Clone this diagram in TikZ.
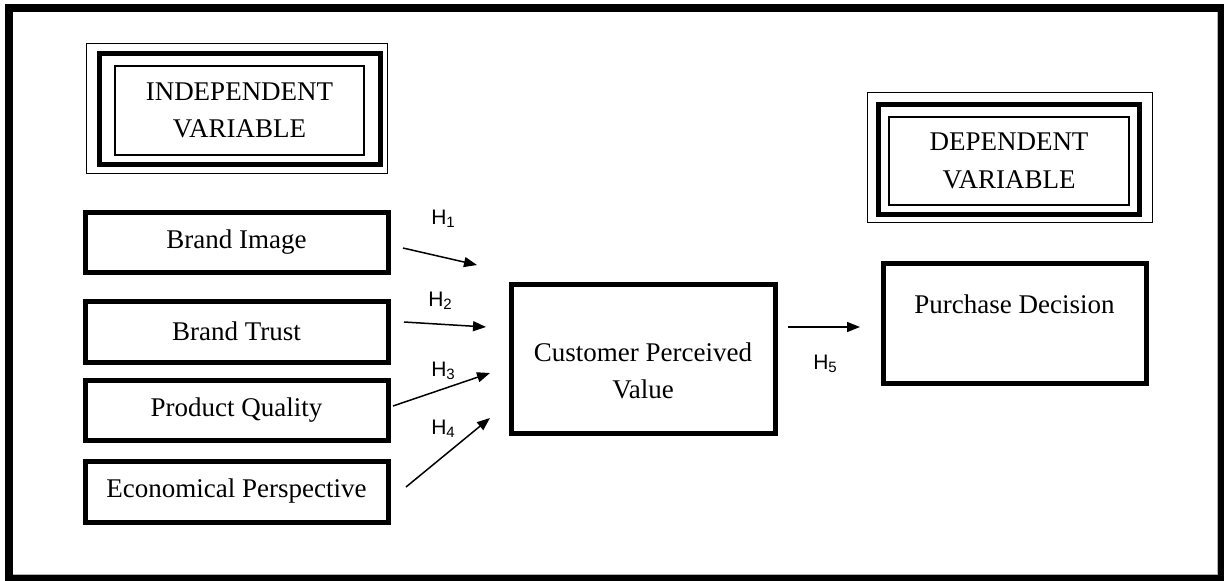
\documentclass[tikz,border=0pt]{standalone}
\usepackage{fontspec}
\setmainfont{Liberation Serif}
\newfontfamily\hypfont{Liberation Sans}
\usetikzlibrary{arrows.meta}

\newcommand{\hsub}[1]{\raisebox{-3.5pt}{\fontsize{15}{15}\selectfont #1}}

\tikzset{
  varbox/.style={draw, line width=5pt, minimum width=303pt, minimum height=60pt,
    inner sep=0pt, align=center, font=\fontsize{27}{37}\selectfont},
  titlebox/.style={draw, line width=1.3pt, inner sep=0pt, align=center,
    font=\fontsize{27}{37.5}\selectfont},
  hyp/.style={font=\hypfont\fontsize{21}{21}\selectfont, inner sep=0pt},
  hyparrow/.style={line width=1.5pt, -{Triangle[length=13pt,width=10pt]}}
}

\begin{document}
\begin{tikzpicture}[x=1pt, y=-1pt]

  \useasboundingbox (0,0) rectangle (1224,581);
  \fill[white] (0,0) rectangle (1224,581);
  % page frame
  \fill[black] (5,4) rectangle (1224,581);
  \fill[white] (13,12) rectangle (1217,574);
  \draw[gray!60, line width=1pt] (1217,12) -- (1217,574) -- (13,574);

  % headings
  \node[titlebox, minimum width=249pt, minimum height=89pt] (iv) at (239.5,110.5) {INDEPENDENT\\VARIABLE};
  \draw[line width=5pt] ([shift={(-15,-12)}]iv.north west) rectangle ([shift={(16,9)}]iv.south east);
  \draw[line width=1.3pt] ([shift={(-28,-22)}]iv.north west) rectangle ([shift={(23,18)}]iv.south east);

  \node[titlebox, minimum width=240pt, minimum height=88pt] (dv) at (1009,161) {DEPENDENT\\VARIABLE};
  \draw[line width=5pt] ([shift={(-10,-12)}]dv.north west) rectangle ([shift={(10,9)}]dv.south east);
  \draw[line width=1.3pt] ([shift={(-21,-24)}]dv.north west) rectangle ([shift={(23,17)}]dv.south east);

  % variables
  \node[varbox] (bi) at (236.5,242.5) {Brand Image};
  \node[varbox, minimum height=61pt] (bt) at (236.5,331.5) {Brand Trust};
  \node[varbox] (pq) at (236.5,410) {Product Quality};
  \node[varbox, minimum height=61pt] (ep) at (236.5,491.5) {Economical Perspective};
  \node[varbox, minimum width=264pt, minimum height=149pt] (cpv) at (643,358.5)
    {\rule{0pt}{44pt}Customer Perceived\\Value};
  \node[varbox, minimum width=263pt, minimum height=120pt] (pd) at (1014.5,323)
    {Purchase Decision\\~};

  % hypotheses
  \coordinate (h1s) at (403,248);  \coordinate (h1e) at (477,265);
  \coordinate (h2s) at (404,322);  \coordinate (h2e) at (486,327);
  \coordinate (h3s) at (393,406);  \coordinate (h3e) at (490,373);
  \coordinate (h4s) at (406,487);  \coordinate (h4e) at (490,418);
  \coordinate (h5s) at (788,327);  \coordinate (h5e) at (860,327);
  \draw[hyparrow] (h1s) -- (h1e);
  \draw[hyparrow] (h2s) -- (h2e);
  \draw[hyparrow] (h3s) -- (h3e);
  \draw[hyparrow] (h4s) -- (h4e);
  \draw[hyparrow] (h5s) -- (h5e);

  \node[hyp] (h1) at (443,219) {H\hsub{1}};
  \node[hyp] (h2) at (440,301) {H\hsub{2}};
  \node[hyp] (h3) at (443,371) {H\hsub{3}};
  \node[hyp] (h4) at (443,429) {H\hsub{4}};
  \node[hyp] (h5) at (825,364) {H\hsub{5}};

\end{tikzpicture}
\end{document}
